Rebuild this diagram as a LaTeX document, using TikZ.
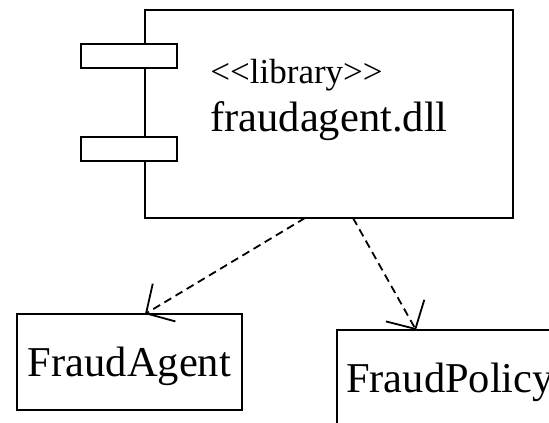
\documentclass[tikz,border=0pt]{standalone}
\usepackage{fontspec}
\setmainfont{Liberation Serif}
\usetikzlibrary{arrows.meta}

\tikzset{
  outline/.style={draw=black, line width=1pt, inner sep=0pt, outer sep=0pt},
  bigtext/.style={font=\fontsize{21.25}{25}\selectfont},
  smalltext/.style={font=\fontsize{17.5}{21}\selectfont},
  classbox/.style={outline, fill=white, bigtext, anchor=north west,
    minimum height=48pt, text depth=0pt},
  plug/.style={outline, fill=white, anchor=north west,
    minimum width=48pt, minimum height=12pt},
  depends/.style={line width=0.9pt, dash pattern=on 4pt off 2.5pt,
    -{Straight Barb[length=10.5pt, width=22pt, line width=0.9pt]}},
}

\begin{document}
\begin{tikzpicture}[x=0.5pt, y=-0.5pt]
  \useasboundingbox (0,0) rectangle (549,422);
  \clip (0,0) rectangle (549,422);

  % component body with its two interface plugs
  \node[outline, anchor=north west, minimum width=184pt, minimum height=104pt]
    (comp) at (145,10) {};
  \node[plug] (plugA) at (81,44) {};
  \node[plug] (plugB) at (81,137) {};
  \node[smalltext, anchor=base west, inner sep=0pt] (stereo) at (210,84)
    {<\kern0pt<library>\kern0pt>};
  \node[bigtext, anchor=base west, inner sep=0pt] (compname) at (210,132)
    {fraudagent.dll};

  % realised classes
  \node[classbox, minimum width=112.5pt] (agent) at (17,314) {FraudAgent};
  \node[classbox, minimum width=113pt] (policy) at (337,330) {FraudPolicy};

  % dependencies
  \draw[depends] ([xshift=80pt]comp.south west) -- ([xshift=64pt]agent.north west);
  \draw[depends] ([xshift=104pt]comp.south west) -- ([xshift=39.5pt]policy.north west);
\end{tikzpicture}
\end{document}
